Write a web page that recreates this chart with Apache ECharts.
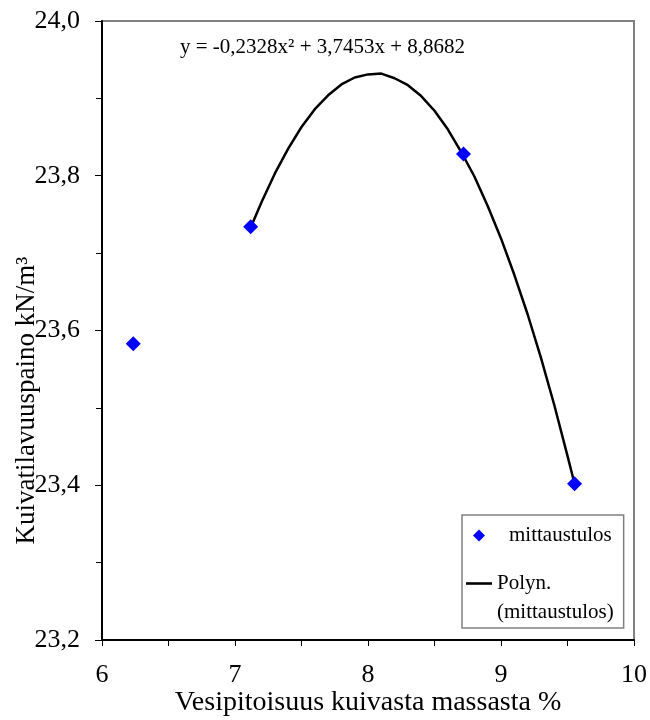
<!DOCTYPE html>
<html>
<head>
<meta charset="utf-8">
<script src="https://cdn.jsdelivr.net/npm/echarts@6/dist/echarts.min.js"></script>
<style>
html,body{margin:0;padding:0;background:#fff;}
#chart{width:650px;height:720px;}
</style>
</head>
<body>
<div id="chart"></div>
<script>
// Measured points (x: water content %, y: dry unit weight kN/m3)
var pointX = [6.235, 7.118, 8.718, 9.553];
var pointY = [23.583, 23.734, 23.828, 23.402];
// Trendline points
var curveX = [7.118, 7.2, 7.3, 7.4, 7.5, 7.6, 7.7, 7.8, 7.9, 8.0, 8.1, 8.2, 8.3, 8.4, 8.5, 8.6, 8.7, 8.8, 8.9, 9.0, 9.1, 9.2, 9.3, 9.4, 9.5, 9.553];
var curveY = [23.733, 23.766, 23.803, 23.835, 23.863, 23.886, 23.904, 23.918, 23.927, 23.931, 23.932, 23.926, 23.917, 23.903, 23.884, 23.860, 23.831, 23.799, 23.761, 23.719, 23.672, 23.621, 23.565, 23.504, 23.438, 23.402];
var xTicks = [6, 7, 8, 9, 10];
var yTicks = ['23,2', '23,4', '23,6', '23,8', '24,0'];
var seriesNames = ['mittaustulos', 'Polyn.\n(mittaustulos)'];
var equationText = 'y = -0,2328x² + 3,7453x + 8,8682';

var FONT = '"Liberation Serif", "Times New Roman", serif';
var chart = echarts.init(document.getElementById('chart'), null, {renderer: 'canvas'});

var scatterData = pointX.map(function (x, i) { return [x, pointY[i]]; });
var curveData = curveX.map(function (x, i) { return [x, curveY[i]]; });

chart.setOption({
  animation: false,
  backgroundColor: '#ffffff',
  textStyle: {fontFamily: FONT},
  grid: {
    left: 102, right: 16, top: 21, bottom: 80,
    containLabel: false, outerBoundsMode: 'none',
    show: true, borderColor: '#808080', borderWidth: 2, backgroundColor: '#ffffff'
  },
  xAxis: {
    type: 'value', min: 6, max: 10, interval: 1,
    name: 'Vesipitoisuus kuivasta massasta %',
    nameLocation: 'middle', nameGap: 49, nameMoveOverlap: false,
    nameTextStyle: {fontFamily: FONT, fontSize: 28, color: '#000'},
    axisLine: {show: true, onZero: false, lineStyle: {color: '#000', width: 2}},
    axisTick: {show: true, length: 6, lineStyle: {color: '#000', width: 1}},
    minorTick: {show: true, splitNumber: 2, length: 6, lineStyle: {color: '#000', width: 1}},
    splitLine: {show: false},
    axisLabel: {
      fontFamily: FONT, fontSize: 26, color: '#000', margin: 22,
      formatter: function (v) { var i = xTicks.indexOf(v); return i >= 0 ? String(xTicks[i]) : ''; }
    }
  },
  yAxis: {
    type: 'value', min: 23.2, max: 24.0, interval: 0.2,
    name: 'Kuivatilavuuspaino kN/m³',
    nameLocation: 'middle', nameGap: 62, nameMoveOverlap: false,
    nameTextStyle: {fontFamily: FONT, fontSize: 27, color: '#000', padding: [0, 140, 0, 0]},
    axisLine: {show: true, onZero: false, lineStyle: {color: '#000', width: 2}},
    axisTick: {show: true, length: 7, lineStyle: {color: '#000', width: 1}},
    minorTick: {show: true, splitNumber: 2, length: 6, lineStyle: {color: '#000', width: 1}},
    splitLine: {show: false},
    axisLabel: {
      fontFamily: FONT, fontSize: 26, color: '#000', margin: 22,
      formatter: function (v) {
        var idx = Math.round((v - 23.2) / 0.2);
        return yTicks[idx] !== undefined ? yTicks[idx] : '';
      }
    }
  },
  legend: {
    orient: 'vertical',
    left: 462, top: 515,
    padding: [6, 10, 1, 4],
    itemGap: -10,
    backgroundColor: '#ffffff',
    borderColor: '#808080', borderWidth: 1.5,
    symbolKeepAspect: true,
    textStyle: {fontFamily: FONT, fontSize: 21, color: '#000', lineHeight: 29},
    formatter: function (name) {
      return name === seriesNames[1] ? ' \n' + name : name;
    },
    data: [
      {name: seriesNames[0], icon: 'path://M6,0 L12,6 L6,12 L0,6 Z',
       itemStyle: {color: '#0000ff', opacity: 1},
       textStyle: {padding: [0, 0, 0, 12]}},
      {name: seriesNames[1], icon: 'path://M0,0 L30,0 L30,3 L0,3 Z',
       itemStyle: {color: '#000', opacity: 1}}
    ],
    itemWidth: 26, itemHeight: 12
  },
  graphic: [{
    type: 'text',
    left: 180, top: 37,
    style: {
      text: equationText,
      font: '21px ' + FONT,
      fill: '#000'
    }
  }],
  series: [
    {
      name: seriesNames[1],
      type: 'line',
      data: curveData,
      smooth: false,
      showSymbol: false,
      symbol: 'none',
      lineStyle: {color: '#000', width: 2.5, join: 'round', cap: 'round'},
      z: 2
    },
    {
      name: seriesNames[0],
      type: 'scatter',
      data: scatterData,
      symbol: 'diamond',
      symbolSize: [15, 15],
      itemStyle: {color: '#0000ff', opacity: 1},
      z: 3
    }
  ]
});
</script>
</body>
</html>
